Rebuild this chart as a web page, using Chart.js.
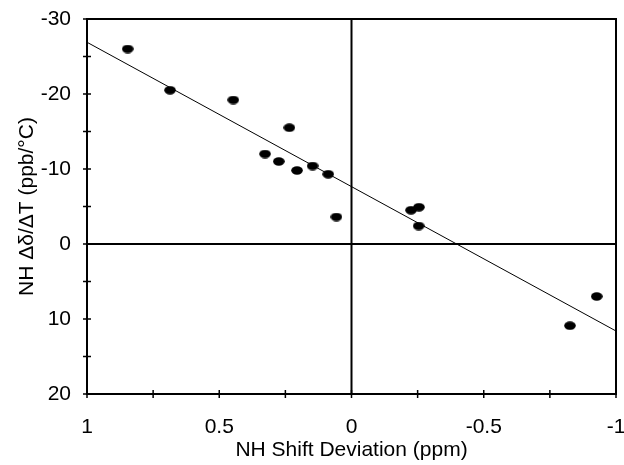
<!DOCTYPE html>
<html>
<head>
<meta charset="utf-8">
<script src="https://cdn.jsdelivr.net/npm/chart.js@4.4.0/dist/chart.umd.min.js"></script>
<style>
  html, body { margin: 0; padding: 0; background: #fff; }
  #wrap { width: 624px; height: 465px; }
</style>
</head>
<body>
<div id="wrap"><canvas id="chart" width="624" height="465"></canvas></div>
<script>
// data
const shiftDev = [0.846, 0.686, 0.447, 0.235, 0.327, 0.275, 0.206, 0.147, 0.088, 0.057, -0.225, -0.255, -0.254, -0.826, -0.927];
const tempCoef = [-26.0, -20.5, -19.2, -15.5, -12.0, -11.0, -9.8, -10.4, -9.3, -3.6, -4.5, -4.9, -2.4, 10.9, 7.0];
const fitX = [1, -1];
const fitY = [-26.9, 11.6];
const xTickLabels = [1, 0.5, 0, -0.5, -1];
const yTickLabels = [-30, -20, -10, 0, 10, 20];

const FONT = 'Liberation Sans, Arial, sans-serif';

// little oval used for the points
const dot = document.createElement('canvas');
dot.width = 12; dot.height = 9;
const dctx = dot.getContext('2d');
dctx.fillStyle = '#000';
dctx.beginPath();
dctx.ellipse(6, 4.5, 5.8, 4.2, 0, 0, Math.PI * 2);
dctx.fill();

const near = (v, list) => list.some(t => Math.abs(t - v) < 1e-6);

// keep chart.js from shrinking the plot for edge labels
function noEdgePad(s) {
    s.paddingLeft = 0; s.paddingRight = 0;
    s.paddingTop = 0; s.paddingBottom = 0;
}

const framePlugin = {
    id: 'frame',
    afterDatasetsDraw(chart) {
        const { ctx, chartArea: a, scales: { x, y } } = chart;
        ctx.save();
        ctx.strokeStyle = '#000';
        ctx.lineWidth = 2;
        ctx.strokeRect(a.left, a.top, a.right - a.left, a.bottom - a.top);

        // zero lines
        const x0 = x.getPixelForValue(0);
        const y0 = y.getPixelForValue(0);
        ctx.beginPath();
        ctx.moveTo(x0, a.top); ctx.lineTo(x0, a.bottom);
        ctx.moveTo(a.left, y0); ctx.lineTo(a.right, y0);
        ctx.stroke();

        // tick marks crossing the axes
        ctx.lineWidth = 1.5;
        ctx.beginPath();
        x.ticks.forEach(t => {
            const px = x.getPixelForValue(t.value);
            ctx.moveTo(px, a.bottom - 4); ctx.lineTo(px, a.bottom + 4);
        });
        y.ticks.forEach(t => {
            const py = y.getPixelForValue(t.value);
            ctx.moveTo(a.left - 4, py); ctx.lineTo(a.left + 4, py);
        });
        ctx.stroke();
        ctx.restore();
    }
};

new Chart(document.getElementById('chart'), {
    type: 'scatter',
    data: {
        datasets: [{
            data: shiftDev.map((v, i) => ({ x: v, y: tempCoef[i] })),
            pointStyle: dot,
            pointRadius: 6,
            showLine: false
        }, {
            data: fitX.map((v, i) => ({ x: v, y: fitY[i] })),
            showLine: true,
            borderColor: '#000',
            borderWidth: 1,
            pointRadius: 0
        }]
    },
    options: {
        responsive: false,
        animation: false,
        layout: { padding: { left: 0, top: 19, right: 8, bottom: 0 } },
        plugins: { legend: { display: false }, tooltip: { enabled: false } },
        scales: {
            x: {
                type: 'linear',
                min: -1, max: 1,
                reverse: true,
                afterFit: s => { s.height = 71; noEdgePad(s); },
                grid: { display: false, drawTicks: false },
                border: { display: false },
                ticks: {
                    stepSize: 0.25,
                    autoSkip: false,
                    maxRotation: 0,
                    padding: 21,
                    color: '#000',
                    font: { family: FONT, size: 21 },
                    callback: v => near(v, xTickLabels) ? String(Math.round(v * 10) / 10) : ''
                },
                title: {
                    display: true,
                    text: 'NH Shift Deviation (ppm)',
                    color: '#000',
                    font: { family: FONT, size: 21 },
                    padding: { top: 0, bottom: 2 }
                }
            },
            y: {
                type: 'linear',
                min: -30, max: 20,
                reverse: true,
                afterFit: s => { s.width = 87; noEdgePad(s); },
                grid: { display: false, drawTicks: false },
                border: { display: false },
                ticks: {
                    stepSize: 5,
                    autoSkip: false,
                    padding: 16,
                    color: '#000',
                    font: { family: FONT, size: 21 },
                    callback: v => near(v, yTickLabels) ? String(v) : ''
                },
                title: {
                    display: true,
                    text: 'NH \u0394\u03B4/\u0394T (ppb/\u00B0C)',
                    color: '#000',
                    font: { family: FONT, size: 21 },
                    padding: { top: 15, bottom: 0 }
                }
            }
        }
    },
    plugins: [framePlugin]
});
</script>
</body>
</html>
